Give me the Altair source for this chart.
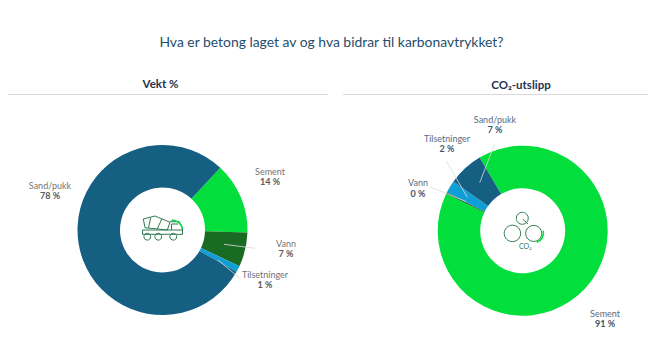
import math
import altair as alt
import pandas as pd

CATS = ["Sement", "Vann", "Tilsetninger", "Sand/pukk"]
WEIGHT = [13.6, 6.5, 1.2, 78.7]
CO2 = [90.6, 0.3, 2.4, 6.7]
WEIGHT_LABELS = ["14 %", "7 %", "1 %", "78 %"]
CO2_LABELS = ["91 %", "0 %", "2 %", "7 %"]
COLORS = ["#02DF3C", "#196B24", "#0F9ED5", "#156082"]
TITLE = "Hva er betong laget av og hva bidrar til karbonavtrykket?"
FONT = "Lato"


def px(v):
    return alt.value(v - 8)


def text(t, x, y, size=9, color="#6b6b6b", weight="normal", font=FONT):
    return alt.Chart(pd.DataFrame({"t": [t]})).mark_text(
        fontSize=size, color=color, fontWeight=weight, font=font, align="center", baseline="middle"
    ).encode(x=px(x), y=px(y), text="t:N")


def line(x1, y1, x2, y2, color="#d9d9d9", width=0.8):
    return alt.Chart(pd.DataFrame({"a": [0]})).mark_rule(color=color, strokeWidth=width).encode(
        x=px(x1), y=px(y1), x2=px(x2), y2=px(y2)
    )


def donut(values, start_deg, cx, cy):
    df = pd.DataFrame({"cat": CATS, "v": values, "o": range(len(CATS))})
    s = math.radians(start_deg)
    return alt.Chart(df).mark_arc(outerRadius=85, innerRadius=42.5).encode(
        x=px(cx),
        y=px(cy),
        theta=alt.Theta("v:Q", stack=True, scale=alt.Scale(domain=[0, 100], range=[s, s + 2 * math.pi])),
        color=alt.Color("cat:N", scale=alt.Scale(domain=CATS, range=COLORS), legend=None),
        order=alt.Order("o:Q"),
    )


def glyph(path, x, y, color="#2f7a52", width=1.0):
    # size 4 makes one path unit equal one pixel
    return alt.Chart(pd.DataFrame({"a": [0]})).mark_point(
        shape=path, size=4, filled=False, stroke=color, strokeWidth=width, opacity=1
    ).encode(x=px(x), y=px(y))


def circle(cx, cy, r):
    return f"M{cx - r},{cy}A{r},{r} 0 1 1 {cx + r},{cy}A{r},{r} 0 1 1 {cx - r},{cy}Z"


TRUCK = (
    "M-19.2,-11L-7.5,-14L7.5,-7.7L4.8,0L-17.5,-2.3Z"
    "M-11.8,-12.3L-14,-2.3M-0.8,-11L-5.2,-1"
    "M7.5,-8.3L16.8,-8.3L20,-1.7L20,4.3L-20,4.3L-20,0L20,0"
    "M9,-6L9,0M9,-6L15.5,-6"
    + circle(-15.2, 6.7, 3.4) + circle(-4.2, 6.7, 3.4) + circle(10.8, 6.7, 3.4)
)
TRUCK_ARC = "M9,-10A11,11 0 0 1 20,-1"
MOLECULE = (
    circle(-0.4, -12.4, 6) + circle(-10.3, 2.7, 8.2) + circle(11, 2.7, 8)
    + "M0.3,-11.3L5.3,-6.7"
)
MOLECULE_ARC = "M20.5,0A9.5,9.5 0 0 1 14,11.5"

layers = [
    donut(WEIGHT, 42.8, 162.5, 230),
    donut(CO2, -30.5, 522.7, 230.7),
    line(8, 94.5, 328, 94.5, width=1),
    line(343, 94.5, 656, 94.5, width=1),
    line(224, 244.3, 255, 248.3),
    line(218, 260, 240.7, 279),
    line(479.7, 182.7, 494.7, 144),
    line(467.3, 197.3, 446.3, 161),
    line(466.3, 201.7, 429.7, 186.7),
    glyph(TRUCK, 162.5, 230),
    glyph(TRUCK_ARC, 162.5, 230, "#02DF3C", 1.6),
    glyph(MOLECULE, 522.7, 230.7),
    glyph(MOLECULE_ARC, 522.7, 230.7, "#02DF3C", 1.6),
    text(TITLE, 331.5, 42.5, 13.9, "#1f4e6e"),
    text("Vekt %", 160.5, 85, 11.5, "#1f3350", "bold"),
    text("CO₂-utslipp", 521, 85.5, 11.5, "#1f3350", "bold"),
    text("CO₂", 525.3, 247, 7, "#2f7a52"),
]

LEFT_POS = {"Sement": (270, 171.5), "Vann": (286, 243.5), "Tilsetninger": (265, 274.5), "Sand/pukk": (50, 185.5)}
RIGHT_POS = {"Sement": (605, 313.5), "Vann": (418, 183), "Tilsetninger": (447, 138.5), "Sand/pukk": (495, 119.5)}
for cat, lab in zip(CATS, WEIGHT_LABELS):
    x, y = LEFT_POS[cat]
    layers.append(text(cat, x, y, color="#737373"))
    layers.append(text(lab, x, y + 10.7, color="#595959", weight="bold"))
for cat, lab in zip(CATS, CO2_LABELS):
    x, y = RIGHT_POS[cat]
    layers.append(text(cat, x, y, color="#5b6b80"))
    layers.append(text(lab, x, y + 10.5, color="#44546a", weight="bold"))

chart = alt.layer(*layers).resolve_scale(theta="independent").properties(
    width=640,
    height=330,
    padding=0,
    autosize=alt.AutoSizeParams(type="none"),
    background="white",
).configure_view(stroke=None)

chart.save("out.html", embed_options={"renderer": "svg", "actions": False})
